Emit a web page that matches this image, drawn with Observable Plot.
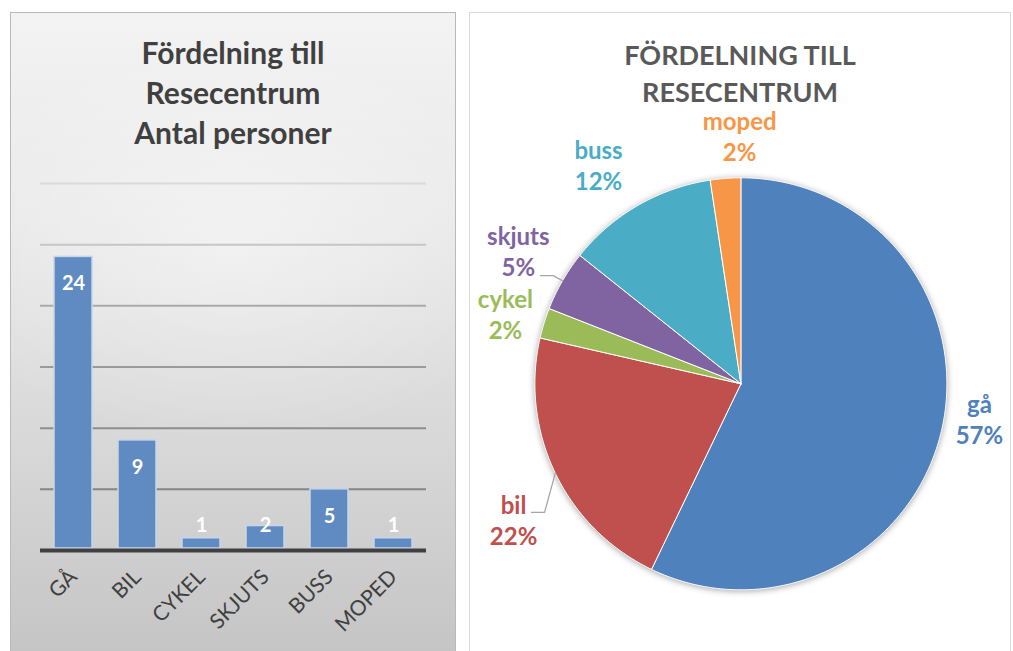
<!DOCTYPE html>
<html>
<head>
<meta charset="utf-8">
<script src="https://cdn.jsdelivr.net/npm/d3@7"></script>
<script src="https://cdn.jsdelivr.net/npm/@observablehq/plot@0.6"></script>
<style>
  html, body { margin: 0; padding: 0; background: #ffffff; }
  body { width: 1013px; height: 651px; overflow: hidden; position: relative; font-family: Lato, "Open Sans", sans-serif; }
  #left {
    position: absolute; left: 10px; top: 12px; width: 444px; height: 660px;
    border: 1px solid #b9b9b9;
    background: radial-gradient(ellipse 70% 30% at 50% 35%, rgba(255,255,255,0.45), rgba(255,255,255,0) 100%),
                linear-gradient(to bottom, #f3f3f3 0%, #e9e9e9 30%, #d8d8d8 65%, #c3c3c3 100%);
  }
  #right {
    position: absolute; left: 469px; top: 12px; width: 540px; height: 660px;
    border: 1px solid #d9d9d9; background: #ffffff;
  }
  .title { position: absolute; left: 0; width: 100%; text-align: center; font-weight: 700; }
  #leftTitle { top: 19px; font-size: 30px; line-height: 40px; color: #404040; }
  #rightTitle { top: 28px; font-size: 27px; color: #595959; }
  #rightTitle div { line-height: 28px; height: 28px; margin-bottom: 9px; }
  #barChart { position: absolute; left: 0; top: 137px; }
  #pieChart { position: absolute; left: 0; top: 87px; }
  #pieChart g[aria-label="line"]:first-of-type { filter: drop-shadow(0px 1px 3px rgba(0,0,0,0.35)); }
</style>
</head>
<body>
<div id="left">
  <div class="title" id="leftTitle">Fördelning till<br>Resecentrum<br>Antal personer</div>
  <div id="barChart"></div>
</div>
<div id="right">
  <div class="title" id="rightTitle"><div>FÖRDELNING TILL</div><div>RESECENTRUM</div></div>
  <div id="pieChart"></div>
</div>
<script>
// ---- data ----
const categories = ["GÅ", "BIL", "CYKEL", "SKJUTS", "BUSS", "MOPED"];
const counts = [24, 9, 1, 2, 5, 1];
const yTicks = [0, 5, 10, 15, 20, 25, 30];
const pieLabels = ["gå", "bil", "cykel", "skjuts", "buss", "moped"];
const piePercentLabels = ["57%", "22%", "2%", "5%", "12%", "2%"];

// ---- styles / layout ----
const palette = ["#4f81bd", "#c0504d", "#9bbb59", "#8064a2", "#4bacc6", "#f79646"];
const gridColors = {5: "#858585", 10: "#8e8e8e", 15: "#9a9a9a", 20: "#aaaaaa", 25: "#c6c6c6", 30: "#dadada"};
const labelRadius = {"gå": 1.17, "bil": 1.285, "cykel": 1.193, "skjuts": 1.259, "buss": 1.269, "moped": 1.205};
const labelShiftDeg = {"gå": -4.6, "bil": -5.1, "cykel": -0.5, "skjuts": 0.9, "buss": -3.0, "moped": 4.0};
const leaderOffsets = {"bil": [18, -7], "skjuts": [22, 25]}; // px from label centre

// ---- bar chart ----
const barData = categories.map((c, i) => ({cat: c, v: counts[i]}));
const pxPerUnit = 367 / 30;
const bar = Plot.plot({
  width: 444, height: 520,
  marginLeft: 29, marginRight: 29, marginTop: 33, marginBottom: 120,
  style: {background: "transparent", fontFamily: "Lato, 'Open Sans', sans-serif", fontSize: "21px", color: "#404040", overflow: "visible"},
  x: {domain: categories, paddingInner: 0.41, paddingOuter: 0.205, label: null, tickSize: 0, tickPadding: 23, tickRotate: -45},
  y: {domain: [0, 30], axis: null},
  marks: [
    Plot.ruleY(yTicks.filter(d => d > 0), {y: d => d, stroke: d => gridColors[d], strokeWidth: 2}),
    Plot.barY(barData, {x: "cat", y: "v", fill: "#5f8ac2", stroke: "#c8d6ea", strokeWidth: 1.5, insetBottom: 2}),
    Plot.ruleY([0], {stroke: "#404040", strokeWidth: 4}),
    Plot.text(barData, {
      x: "cat",
      y: d => Math.max(d.v - 27 / pxPerUnit, 25 / pxPerUnit),
      text: d => String(d.v),
      fill: "white", fontWeight: "700", fontSize: 20
    })
  ],
  color: {type: "identity"}
});
document.getElementById("barChart").appendChild(bar);

// ---- pie chart ----
const R = 206, W = 540, H = 545, cx = 270.4, cy = 283.3; // centre inside svg
const arcs = d3.pie().sort(null).value(d => d)(counts);
const slicePts = [];
arcs.forEach((a, i) => {
  const k = pieLabels[i];
  const n = Math.max(2, Math.ceil((a.endAngle - a.startAngle) * 180 / Math.PI * 2));
  slicePts.push({k, x: 0, y: 0});
  for (let j = 0; j <= n; j++) {
    const t = a.startAngle + (a.endAngle - a.startAngle) * j / n;
    slicePts.push({k, x: Math.sin(t), y: Math.cos(t)});
  }
  slicePts.push({k, x: 0, y: 0});
});
const labelData = arcs.map((a, i) => {
  const k = pieLabels[i];
  const m = (a.startAngle + a.endAngle) / 2 + labelShiftDeg[k] * Math.PI / 180;
  const r = labelRadius[k];
  return {k, x: r * Math.sin(m), y: r * Math.cos(m), text: k + "\n" + piePercentLabels[i],
          mid: (a.startAngle + a.endAngle) / 2};
});
const leaderPts = [];
labelData.forEach(d => {
  if (!leaderOffsets[d.k]) return;
  const [ox, oy] = leaderOffsets[d.k];
  const ex = d.x + ox / R, ey = d.y - oy / R;
  leaderPts.push({k: d.k, x: ex, y: ey});
  leaderPts.push({k: d.k, x: ex + 13 / R, y: ey});
  leaderPts.push({k: d.k, x: Math.sin(d.mid), y: Math.cos(d.mid)});
});

const pie = Plot.plot({
  width: W, height: H, margin: 0,
  style: {background: "transparent", fontFamily: "Lato, 'Open Sans', sans-serif", overflow: "visible"},
  x: {domain: [-cx / R, (W - cx) / R], axis: null},
  y: {domain: [-(H - cy) / R, cy / R], axis: null},
  color: {domain: pieLabels, range: palette},
  marks: [
    Plot.line(slicePts, {x: "x", y: "y", z: "k", fill: "k", stroke: "white", strokeWidth: 1, curve: "linear"}),
    Plot.line(leaderPts, {x: "x", y: "y", z: "k", stroke: "#a6a6a6", strokeWidth: 1.3, curve: "linear"}),
    Plot.text(labelData, {x: "x", y: "y", text: "text", fill: "k", fontWeight: "700", fontSize: 24, lineHeight: 1.3})
  ]
});
document.getElementById("pieChart").appendChild(pie);
</script>
</body>
</html>
